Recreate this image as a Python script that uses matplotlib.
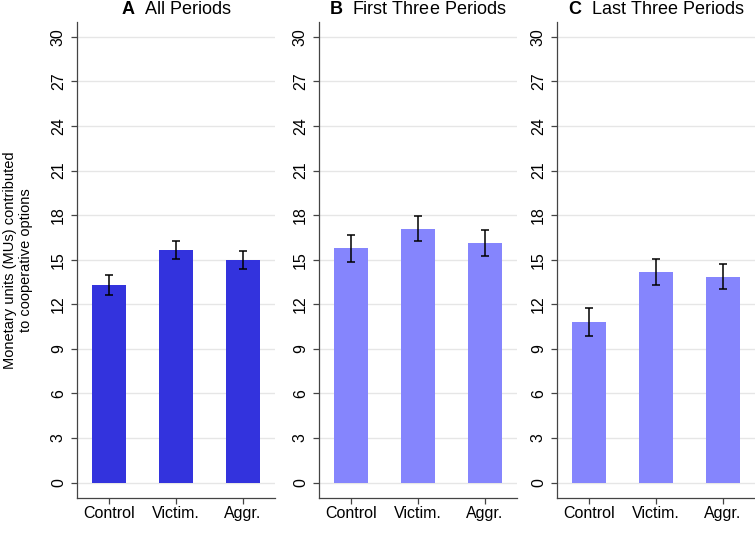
import numpy as np
import matplotlib.pyplot as plt

plt.rcParams['font.family'] = ['Liberation Sans', 'DejaVu Sans']
plt.rcParams['mathtext.fontset'] = 'custom'
plt.rcParams['mathtext.bf'] = 'Liberation Sans:bold'
plt.rcParams['mathtext.rm'] = 'Liberation Sans'

categories = ['Control', 'Victim.', 'Aggr.']
panel_letters = ['A', 'B', 'C']
panel_titles = ['All Periods', 'First Three Periods', 'Last Three Periods']

means_all = [13.29, 15.65, 14.98]
err_all = [0.67, 0.60, 0.62]
means_first = [15.77, 17.09, 16.12]
err_first = [0.90, 0.82, 0.86]
means_last = [10.82, 14.19, 13.86]
err_last = [0.93, 0.89, 0.86]

yticks = [0, 3, 6, 9, 12, 15, 18, 21, 24, 27, 30]
colors = ['#3333dd', '#8585fd', '#8585fd']

panels = [(means_all, err_all), (means_first, err_first), (means_last, err_last)]

fig = plt.figure(figsize=(7.55, 5.49), dpi=100)
W, H = 755, 549
lefts = [77, 319, 557]
width = 198
top, bottom = 22, 498

x = np.arange(len(categories))
for i, (m, e) in enumerate(panels):
    ax = fig.add_axes([lefts[i] / W, 1 - bottom / H, width / W, (bottom - top) / H])
    ax.bar(x, m, width=0.5, color=colors[i], zorder=2)
    ax.errorbar(x, m, yerr=e, fmt='none', ecolor='black', elinewidth=1.1,
                capsize=3, capthick=1.1, zorder=3)
    ax.set_xlim(-0.475, 2.475)
    ax.set_ylim(-1.04, 31.0)
    ax.set_yticks(yticks)
    ax.set_yticklabels([str(t) for t in yticks], rotation=90, va='center')
    ax.set_xticks(x)
    ax.set_xticklabels(categories)
    ax.tick_params(axis='both', labelsize=11.5, length=4, width=0.9,
                   color='#444444')
    ax.tick_params(axis='x', pad=1.5)
    ax.tick_params(axis='y', pad=4)
    ax.grid(axis='y', color='#e6e6e6', linewidth=1, zorder=0)
    ax.set_axisbelow(True)
    for s in ['top', 'right']:
        ax.spines[s].set_visible(False)
    for s in ['left', 'bottom']:
        ax.spines[s].set_color('#444444')
        ax.spines[s].set_linewidth(0.9)
    ax.set_title(r'$\mathbf{' + panel_letters[i] + '}$  ' + panel_titles[i],
                 fontsize=13, pad=6)
    if i == 0:
        ax.set_ylabel('Monetary units (MUs) contributed\nto cooperative options',
                      fontsize=10.5, labelpad=13, linespacing=1.15)

fig.savefig('out.png', dpi=100)
